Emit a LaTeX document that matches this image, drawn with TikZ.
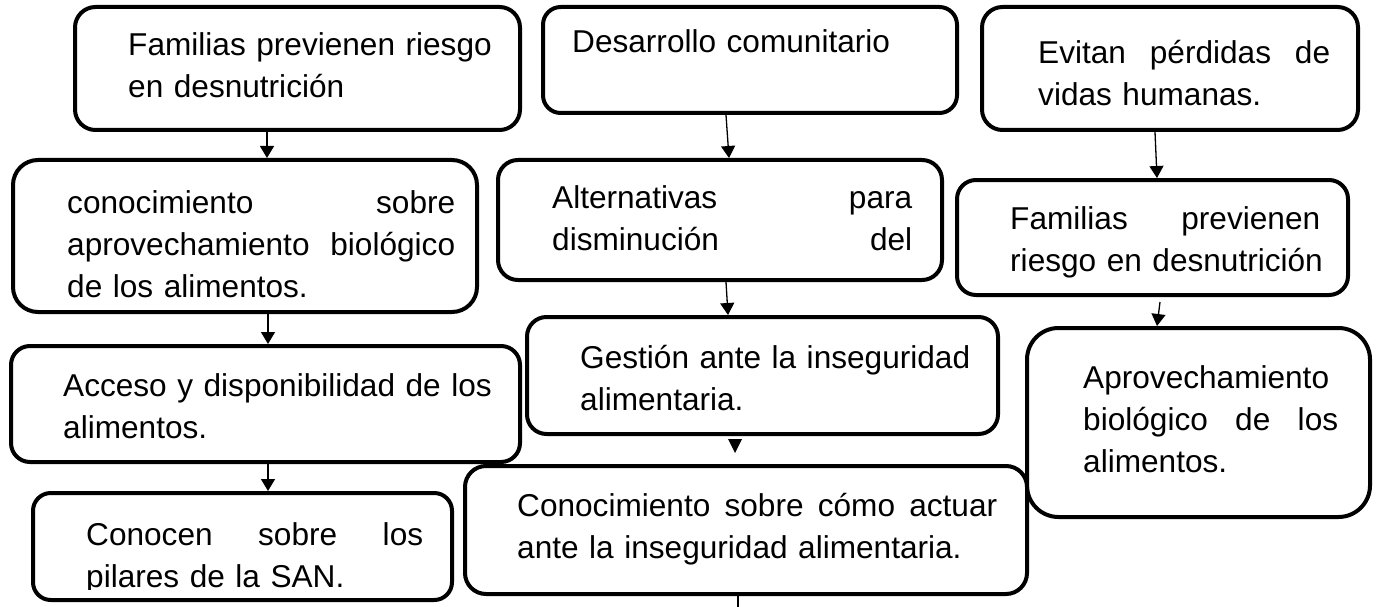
\documentclass[tikz,border=0pt]{standalone}
\usepackage{fontspec}
\setmainfont{Liberation Sans}
\usetikzlibrary{arrows.meta,calc}
\newcommand\jline[2]{\leavevmode\hbox to #1{#2}}
\begin{document}
\begin{tikzpicture}[x=1pt,y=-1pt,
  box/.style={draw, line width=4pt, fill=white, inner sep=0pt},
  txt/.style={anchor=base west, inner sep=0pt, text width=520pt, align=left,
    font=\fontsize{31.6}{42}\selectfont},
  arr/.style={line width=1.3pt, -{Triangle[width=14pt,length=12pt]}},
  conn/.style={line width=1.3pt}]
\useasboundingbox (0,0) rectangle (1376,607);
% boxes
\node[box, rounded corners=20.5pt, minimum width=445pt, minimum height=123pt] (A) at (297.5,68.5) {};
\node[box, rounded corners=17.7pt, minimum width=414pt, minimum height=106pt] (B) at (750,60) {};
\node[box, rounded corners=20.5pt, minimum width=376pt, minimum height=123pt] (C) at (1170,68.5) {};
\node[box, rounded corners=25pt, minimum width=464pt, minimum height=152pt] (D) at (245,236) {};
\node[box, rounded corners=20pt, minimum width=444pt, minimum height=120pt] (E) at (720,220) {};
\node[box, rounded corners=19pt, minimum width=391pt, minimum height=115pt] (F) at (1152.5,237.5) {};
\node[box, rounded corners=19pt, minimum width=509pt, minimum height=116pt] (G) at (265.5,404) {};
\node[box, rounded corners=19.5pt, minimum width=471pt, minimum height=117pt] (I) at (762.5,375.5) {};
\node[box, rounded corners=31.5pt, minimum width=343pt, minimum height=189pt] (J) at (1198.5,422.5) {};
\node[box, rounded corners=17.8pt, minimum width=419pt, minimum height=107pt] (H) at (242.5,546.5) {};
\node[box, rounded corners=21pt, minimum width=562pt, minimum height=128pt] (K) at (746,530) {};
% texts
\node[txt] (At) at (128,56) {Familias previenen riesgo\\en desnutrición};
\node[txt] (Bt) at (572,53) {Desarrollo comunitario};
\node[txt] (Ct) at (1038,64) {\jline{292pt}{Evitan\hfill pérdidas\hfill de}\\vidas humanas.};
\node[txt] (Dt) at (67,213) {\jline{388pt}{conocimiento\hfill sobre}\\\jline{388pt}{aprovechamiento\hfill biológico}\\de los alimentos.};
\node[txt] (Et) at (552,208) {\jline{360pt}{Alternativas\hfill para}\\\jline{360pt}{disminución\hfill del}};
\node[txt] (Ft) at (1010,229) {\jline{310pt}{Familias\hfill previenen}\\riesgo en desnutrición};
\node[txt] (Gt) at (63,396) {Acceso y disponibilidad de los\\alimentos.};
\begin{scope}
\clip (0,0) rectangle (1376,589);
\node[txt] (Ht) at (86,545) {\jline{337pt}{Conocen\hfill sobre\hfill los}\\pilares de la SAN.};
\end{scope}
\node[txt] (It) at (580,368) {Gestión ante la inseguridad\\alimentaria.};
\node[txt] (Kt) at (517,516) {\jline{480pt}{Conocimiento\hfill sobre\hfill cómo\hfill actuar}\\ante la inseguridad alimentaria.};
\node[txt] (Jt) at (1083,388) {Aprovechamiento\\\jline{255pt}{biológico\hfill de\hfill los}\\alimentos.};
% connectors
\draw[arr] (267,0 |- A.south) -- (267,0 |- D.north);
\draw[arr] (726,0 |- B.south) -- (729,0 |- E.north);
\draw[arr] (1155,0 |- C.south) -- (1157,0 |- F.north);
\draw[arr] (268,0 |- D.south) -- (268,0 |- G.north);
\draw[arr] (726,0 |- E.south) -- (728,0 |- I.north);
\draw[arr] ($(1160,0 |- F.south)+(0,5)$) -- (1157,0 |- J.north);
\draw[arr] (268,0 |- G.south) -- (268,0 |- H.north);
\fill (728,439) -- (742,439) -- (735,453) -- cycle;
\coordinate (Kend) at (738,607);
\draw[conn] (738,0 |- K.south) -- (Kend);
\end{tikzpicture}
\end{document}
